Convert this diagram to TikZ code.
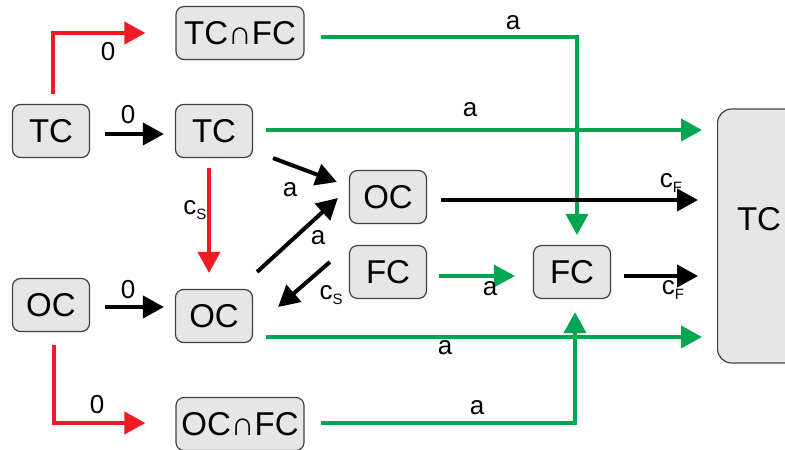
\documentclass[tikz,border=0pt]{standalone}
\usepackage{fontspec}
\setmainfont{Liberation Sans}
\usetikzlibrary{arrows.meta,calc}
\definecolor{myred}{HTML}{ED1C24}
\definecolor{mygreen}{HTML}{00A651}
\definecolor{boxfill}{HTML}{E6E6E6}
\definecolor{boxdraw}{HTML}{404040}
\newcommand{\sbl}[1]{\raisebox{-5pt}{\fontsize{15}{16}\selectfont #1}}
\begin{document}
\begin{tikzpicture}[x=1pt,y=-1pt,
 box/.style={draw=boxdraw, fill=boxfill, rounded corners=8pt, line width=1.2pt, minimum width=77pt, minimum height=53pt, inner sep=0pt, font=\fontsize{33}{36}\selectfont},
 wbox/.style={box, minimum width=128pt},
 arr/.style={line width=4pt, -{Triangle[length=21pt,width=22pt]}},
 lab/.style={font=\fontsize{26}{28}\selectfont, inner sep=0pt},
]
\useasboundingbox (0,0) rectangle (785,450);
% nodes
\node[wbox] (tcfc) at (240,33) {TC∩FC};
\node[box] (tcL) at (51,131) {TC};
\node[box] (tcM) at (214,131) {TC};
\node[box] (ocR) at (388,197) {OC};
\node[box] (fcM) at (388,272) {FC};
\node[box] (ocL) at (51,305) {OC};
\node[box] (ocM) at (214,316) {OC};
\node[wbox] (ocfc) at (240,424) {OC∩FC};
\node[box] (fcR) at (572,272) {FC};
\node[box, rounded corners=14pt, minimum width=170pt, minimum height=254pt, anchor=west] (big) at (717,236) {};
\node[font=\fontsize{33}{36}\selectfont, inner sep=0pt] (bigtxt) at (759,219) {TC};
% connectors
\draw[arr, myred] ($(tcL.north)+(2,-10)$) |- ($(tcfc.west)+(-30,0)$);
\draw[arr, black] ($(tcL.east)+(15,3)$) -- ($(tcM.west)+(-11,3)$);
\draw[arr, mygreen] ($(tcfc.east)+(16,4)$) -| ($(fcR.north)+(5,-10)$);
\draw[arr, mygreen] ($(tcM.east)+(13,-1)$) -- ($(tcM.east -| big.west)+(-15,-1)$);
\draw[arr, black] ($(tcM.south east)+(20,0)$) -- ($(ocR.west)+(-12,-15)$);
\draw[arr, myred] ($(tcM.south)+(-5,10)$) -- ($(ocM.north)+(-5,-16)$);
\draw[arr, black] ($(ocM.north east)+(4,-17)$) -- ($(ocR.west)+(-11,1)$);
\draw[arr, black] ($(fcM.west)+(-19,-10)$) -- ($(ocM.east)+(25,-9)$);
\draw[arr, black] ($(ocR.east)+(14,3)$) -- ($(ocR.east -| big.west)+(-19,3)$);
\draw[arr, mygreen] ($(fcM.east)+(12,4)$) -- ($(fcR.west)+(-18,4)$);
\draw[arr, black] ($(fcR.east)+(13,4)$) -- ($(fcR.east -| big.west)+(-19,4)$);
\draw[arr, mygreen] ($(ocM.east)+(13,21)$) -- ($(ocM.east -| big.west)+(-15,21)$);
\draw[arr, mygreen] ($(ocfc.east)+(16,-1)$) -| ($(fcR.south)+(3,13)$);
\draw[arr, myred] ($(ocL.south)+(3,13)$) |- ($(ocfc.west)+(-30,-1)$);
\draw[arr, black] ($(ocL.east)+(15,2)$) -- ($(ocM.west)+(-11,-9)$);
% labels
\node[lab] (l1) at (108,52) {0};
\node[lab] (l2) at (128,115) {0};
\node[lab] (l3) at (513,23) {a};
\node[lab] (l4) at (470,110) {a};
\node[lab] (l5) at (290,190) {a};
\node[lab] (l6) at (195,210) {c\sbl{S}};
\node[lab] (l7) at (318,238) {a};
\node[lab] (l8) at (331,295) {c\sbl{S}};
\node[lab] (l9) at (671,183) {c\sbl{F}};
\node[lab] (l10) at (490,289) {a};
\node[lab] (l11) at (673,290) {c\sbl{F}};
\node[lab] (l12) at (445,348) {a};
\node[lab] (l13) at (477,408) {a};
\node[lab] (l14) at (97,405) {0};
\node[lab] (l15) at (128,290) {0};
\end{tikzpicture}
\end{document}
